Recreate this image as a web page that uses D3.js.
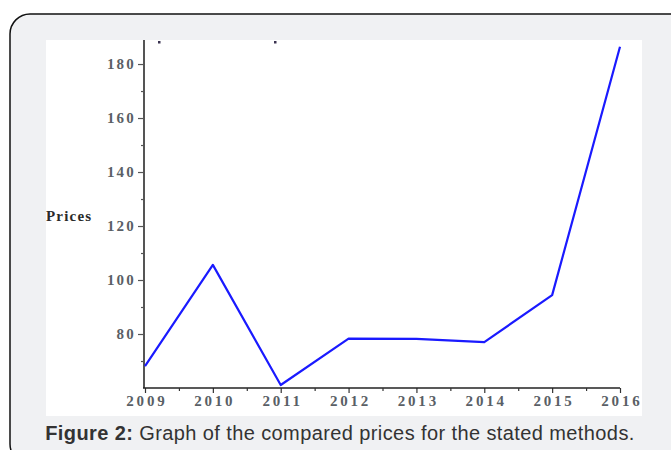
<!DOCTYPE html>
<html><head><meta charset="utf-8">
<script src="https://cdn.jsdelivr.net/npm/d3@7"></script>
<style>
html,body{margin:0;padding:0;background:#fff;}
svg{display:block;}
</style></head>
<body>
<svg id="chart" width="671" height="450"></svg>
<script>
const years = [2009, 2010, 2011, 2012, 2013, 2014, 2015, 2016];
const prices = [68.1, 105.6, 61.1, 78.3, 78.2, 77.0, 94.4, 186.4];
const yTicks = [80, 100, 120, 140, 160, 180];
const yMinorTicks = [70, 90, 110, 130, 150, 170];
const yLabel = "Prices";
const captionBold = "Figure 2:";
const captionText = " Graph of the compared prices for the stated methods.";

const svg = d3.select("#chart");
// panel
svg.append("rect").attr("x", 10).attr("y", 14).attr("width", 680).attr("height", 450)
  .attr("rx", 20).attr("fill", "#f0f1f3").attr("stroke", "#111").attr("stroke-width", 1.5);
// white plot paper
svg.append("rect").attr("x", 46).attr("y", 40).attr("width", 596).attr("height", 376).attr("fill", "#fff");

const x = d3.scaleLinear().domain([2009, 2016]).range([145, 620]);
const y = d3.scaleLinear().domain([60, 188.9]).range([388, 40]);

const labelColor = "#5a5f66";
const axisColor = "#555";
const tickFont = "'Liberation Serif', 'DejaVu Serif', serif";

// y axis
const yAxis = d3.axisLeft(y).tickValues(yTicks).tickSize(6).tickPadding(2).tickFormat(d3.format("d"));
const gy = svg.append("g").attr("transform", "translate(144,0)").call(yAxis);
gy.select(".domain").remove();
gy.append("line").attr("x1", 0).attr("x2", 0).attr("y1", y.range()[1]).attr("y2", y.range()[0])
  .attr("stroke", axisColor).attr("stroke-width", 2);
gy.selectAll(".tick line").attr("stroke", axisColor).attr("stroke-width", 1.2);
gy.selectAll(".tick text").attr("fill", labelColor).attr("font-family", tickFont)
  .attr("font-weight", "bold").attr("font-size", 15).attr("letter-spacing", 2.2);
const gym = svg.append("g").attr("transform", "translate(144,0)")
  .call(d3.axisLeft(y).tickValues(yMinorTicks).tickSize(3).tickFormat(""));
gym.select(".domain").remove();
gym.selectAll(".tick line").attr("stroke", axisColor).attr("stroke-width", 1.2);

// x axis
const gx = svg.append("g").attr("transform", "translate(0,388)")
  .call(d3.axisBottom(x).tickValues(years).tickSize(5).tickPadding(2).tickFormat(d3.format("d")));
gx.select(".domain").remove();
gx.append("line").attr("x1", 143).attr("x2", x(2016)).attr("y1", 0).attr("y2", 0)
  .attr("stroke", "#222").attr("stroke-width", 1.5);
gx.selectAll(".tick line").attr("stroke", "#333").attr("stroke-width", 1.2);
gx.selectAll(".tick text").attr("fill", labelColor).attr("font-family", tickFont)
  .attr("font-weight", "bold").attr("font-size", 15).attr("letter-spacing", 2.8)
  .attr("dx", 1.4);
const minorX = years.slice(0, -1).map(v => v + 0.5);
const gxm = svg.append("g").attr("transform", "translate(0,388)")
  .call(d3.axisBottom(x).tickValues(minorX).tickSize(3).tickFormat(""));
gxm.select(".domain").remove();
gxm.selectAll(".tick line").attr("stroke", "#333").attr("stroke-width", 1.2);

// y label
svg.append("text").attr("x", 46).attr("y", 221).text(yLabel)
  .attr("font-family", tickFont).attr("font-weight", "bold")
  .attr("font-size", 15).attr("letter-spacing", 1.2).attr("fill", "#2a2a2a");

// small residue marks at top
svg.append("rect").attr("x", 158).attr("y", 41).attr("width", 2.5).attr("height", 2.5).attr("fill", "#3a3350");
svg.append("rect").attr("x", 274).attr("y", 41).attr("width", 2.5).attr("height", 2.5).attr("fill", "#3a3350");

// line
const line = d3.line().x((d, i) => x(years[i])).y(d => y(d));
svg.append("path").datum(prices).attr("d", line).attr("fill", "none")
  .attr("stroke", "#1a1aff").attr("stroke-width", 2.2).attr("stroke-linejoin", "round");

// caption
const cap = svg.append("text").attr("x", 340).attr("y", 440).attr("text-anchor", "middle")
  .attr("font-family", "'Liberation Sans', Arial, sans-serif").attr("font-size", 20)
  .attr("letter-spacing", 0.4).attr("fill", "#333");
cap.append("tspan").attr("font-weight", "bold").text(captionBold);
cap.append("tspan").text(captionText);
</script>
</body></html>
